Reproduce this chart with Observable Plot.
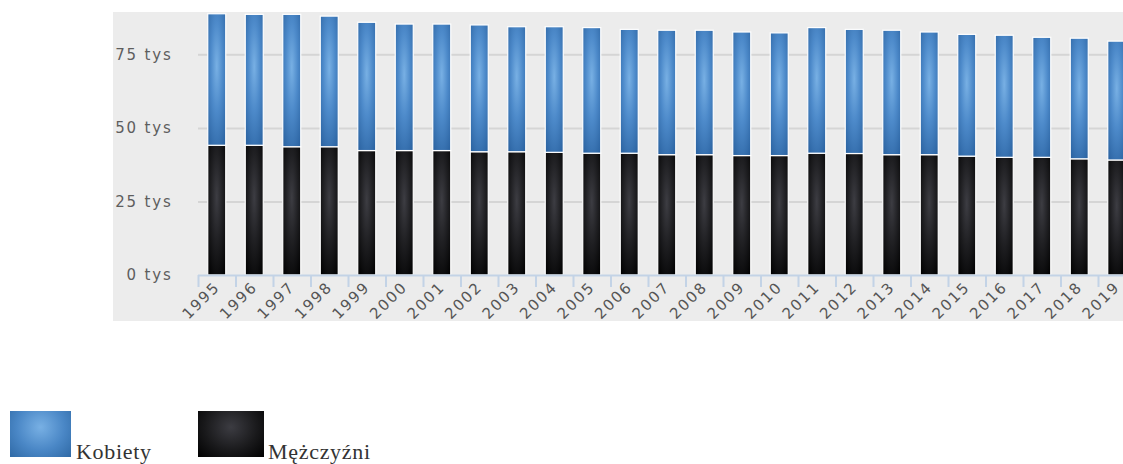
<!DOCTYPE html>
<html>
<head>
<meta charset="utf-8">
<script src="https://cdn.jsdelivr.net/npm/d3@7"></script>
<script src="https://cdn.jsdelivr.net/npm/@observablehq/plot@0.6"></script>
<style>
  html, body { margin: 0; padding: 0; background: #fff; overflow: hidden; }
  #wrap { position: relative; width: 1123px; height: 464px; }
  #panel { position: absolute; left: 113px; top: 12px; width: 1010px; height: 309px; background: #ececec; }
  #chart { position: absolute; left: 0; top: 0; }
  #chart svg text { letter-spacing: 1.8px; }
  .lg-box { position: absolute; top: 411px; height: 46px; }
  .lg-text { position: absolute; top: 439px; font-family: "Liberation Serif", serif; font-size: 22px; color: #333; letter-spacing: 0.7px; }
</style>
</head>
<body>
<div id="wrap">
  <div id="panel"></div>
  <div id="chart"></div>
  <div class="lg-box" style="left:10px;width:61px;background:radial-gradient(ellipse at 50% 35%, #78b0e4 0%, #4a87c6 55%, #2f69a5 100%);"></div>
  <div class="lg-text" style="left:76px;">Kobiety</div>
  <div class="lg-box" style="left:198px;width:66px;background:radial-gradient(ellipse at 50% 35%, #3c3c42 0%, #1a1a1c 55%, #000 100%);"></div>
  <div class="lg-text" style="left:268px;">Mężczyźni</div>
</div>
<script>
const years = ["1995","1996","1997","1998","1999","2000","2001","2002","2003","2004","2005","2006","2007","2008","2009","2010","2011","2012","2013","2014","2015","2016","2017","2018","2019"];
const men   = [44.1,44.1,43.6,43.6,42.3,42.3,42.3,41.9,41.9,41.7,41.4,41.4,40.9,40.9,40.6,40.6,41.4,41.3,40.9,40.9,40.4,40.0,40.0,39.5,39.1];
const women = [44.7,44.5,45.0,44.4,43.6,43.0,43.0,43.1,42.5,42.7,42.7,42.1,42.3,42.3,42.0,41.7,42.7,42.2,42.3,41.7,41.4,41.5,40.8,41.0,40.4];
const series = ["Mężczyźni", "Kobiety"];
const yTicks = [0, 25, 50, 75];

const rows = [];
years.forEach((y, i) => {
  rows.push({year: y, sex: series[0], value: men[i]});
  rows.push({year: y, sex: series[1], value: women[i]});
});

function defs() {
  const g = d3.create("svg:g");
  const d = g.append("defs");
  const mk = (id, stops) => {
    const rg = d.append("radialGradient").attr("id", id)
      .attr("cx", "50%").attr("cy", "40%").attr("r", "75%");
    stops.forEach(([o, c]) => rg.append("stop").attr("offset", o).attr("stop-color", c));
  };
  mk("gK", [["0%", "#78b0e4"], ["45%", "#4d8aca"], ["100%", "#2a62a0"]]);
  mk("gM", [["0%", "#3d3d43"], ["45%", "#202023"], ["100%", "#000000"]]);
  return g.node();
}

const W = 1123, left = 198, step = 37.5;
const chart = Plot.plot({
  width: W,
  height: 345,
  marginLeft: left,
  marginRight: W - (left + step * years.length),
  marginTop: 12,
  marginBottom: 70,
  style: {background: "transparent", overflow: "hidden", fontFamily: "DejaVu Sans, sans-serif"},
  x: {domain: years, paddingInner: 0.52, paddingOuter: 0.26, round: false, label: null},
  y: {domain: [0, 89.4], label: null},
  color: {domain: series, range: ["url(#gM)", "url(#gK)"]},
  marks: [
    defs,
    Plot.gridY(yTicks.slice(1), {stroke: "#d5d5d5", strokeOpacity: 1, strokeWidth: 2}),
    Plot.axisY(yTicks, {tickSize: 0, tickPadding: 26, tickFormat: d => d + " tys", fontSize: 15, fill: "#5e5e5e", label: null}),
    Plot.barY(rows, {x: "year", y: "value", fill: "sex", stroke: "#ffffff", strokeWidth: 1.2}),
    Plot.ruleY([0], {stroke: "#c3d3e6", strokeWidth: 2}),
    Plot.axisX({tickSize: 12, dx: -step / 2, tickFormat: () => "", stroke: "#c3d3e6", strokeWidth: 2, label: null}),
    Plot.axisX({tickSize: 0, tickPadding: 9, tickRotate: -45, fontSize: 15, fill: "#555", label: null})
  ]
});
document.getElementById("chart").appendChild(chart);
</script>
</body>
</html>
